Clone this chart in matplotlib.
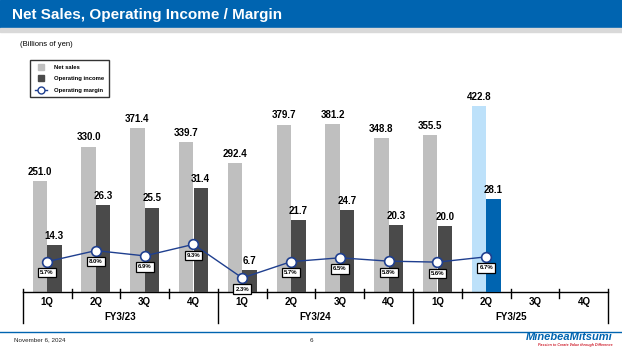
import matplotlib.pyplot as plt
from matplotlib.lines import Line2D
from matplotlib.patches import Rectangle

plt.rcParams['font.family'] = ['Liberation Sans', 'DejaVu Sans']

quarters = ["1Q", "2Q", "3Q", "4Q"] * 3
years = ["FY3/23", "FY3/24", "FY3/25"]
net_sales = [251.0, 330.0, 371.4, 339.7, 292.4, 379.7, 381.2, 348.8, 355.5, 422.8]
op_income = [14.3, 26.3, 25.5, 31.4, 6.7, 21.7, 24.7, 20.3, 20.0, 28.1]
op_margin = [5.7, 8.0, 6.9, 9.3, 2.3, 5.7, 6.5, 5.8, 5.6, 6.7]

W, H = 622, 350
fig = plt.figure(figsize=(W / 100, H / 100), dpi=100)

def fx(px):
    return px / W

def fy(py):
    return 1 - py / H

# header band
fig.patches.append(Rectangle((0, fy(28)), 1, 28 / H, transform=fig.transFigure,
                             color="#0064B0", zorder=0))
fig.patches.append(Rectangle((0, fy(32)), 1, 4 / H, transform=fig.transFigure,
                             color="#D9D9D9", zorder=0))
fig.text(fx(12), fy(15), "Net Sales, Operating Income / Margin", color="white",
         fontsize=11, fontweight="bold", va="center", ha="left")
fig.text(fx(20), fy(45), "(Billions of yen)", fontsize=5.5, va="center", ha="left")

# footer
fig.add_artist(Line2D([0, 1], [fy(332), fy(332)], transform=fig.transFigure,
                      color="#0064B0", lw=1))
fig.text(fx(14), fy(340), "November 6, 2024", fontsize=4.5, va="center", color="#222222")
fig.text(fx(311), fy(340), "6", fontsize=4.5, va="center", ha="center", color="#222222")
fig.text(fx(613), fy(337), "MinebeaMitsumi", fontsize=8, fontweight="bold",
         style="italic", color="#0064B0", ha="right", va="center")
fig.text(fx(613), fy(345), "Passion to Create Value through Difference", fontsize=2.6,
         fontweight="bold", style="italic", color="#D0202E", ha="right", va="center")

# main axes
left, right, top, bottom = 22.7, 608.3, 60, 292
ax = fig.add_axes([fx(left), fy(bottom), fx(right - left), (bottom - top) / H])
ax.set_xlim(0, 12)
ax.set_ylim(0, (bottom - top) / 0.4407)
ax2 = ax.twinx()
ax2.set_ylim(0, (bottom - top) / 3.31)
ax3 = ax.twinx()
ax3.set_ylim(-3 / 4.8, -3 / 4.8 + (bottom - top) / 4.8)
for a in (ax, ax2, ax3):
    a.axis("off")
    a.set_xlim(0, 12)
ax.set_zorder(1)
ax2.set_zorder(2)
ax3.set_zorder(3)

n = len(net_sales)
x = [i + 0.5 for i in range(n)]
bw = 0.297
ns_colors = ["#BFBFBF"] * (n - 1) + ["#BDE1FA"]
oi_colors = ["#4A4A4A"] * (n - 1) + ["#0064B0"]
ax.bar([v - 0.149 for v in x], net_sales, width=bw, color=ns_colors)
ax2.bar([v + 0.149 for v in x], op_income, width=bw, color=oi_colors)
for xi, v in zip(x, net_sales):
    ax.annotate(f"{v:.1f}", (xi - 0.149, v), xytext=(0, 3), textcoords="offset points",
                ha="center", va="bottom", fontsize=7, fontweight="bold")
for xi, v in zip(x, op_income):
    ax2.annotate(f"{v:.1f}", (xi + 0.149, v), xytext=(0, 3), textcoords="offset points",
                 ha="center", va="bottom", fontsize=7, fontweight="bold")

ax3.plot(x, op_margin, color="#1F3F8F", lw=1, marker="o", ms=7,
         mfc="white", mec="#1F3F8F", mew=1.2)
for xi, v in zip(x, op_margin):
    ax3.annotate(f"{v:.1f}%", (xi, v), xytext=(0, -8), textcoords="offset points",
                 ha="center", va="center", fontsize=4.3, fontweight="bold",
                 bbox=dict(boxstyle="square,pad=0.35", fc="white", ec="black", lw=0.9))

# category axis
tr = ax.get_xaxis_transform()
h = bottom - top
ax.plot([0, 12], [0, 0], transform=tr, color="black", lw=1, clip_on=False)
for k in range(13):
    low = -31 / h if k % 4 == 0 else -6 / h
    ax.plot([k, k], [3 / h, low], transform=tr, color="black", lw=1, clip_on=False)
for k, q in enumerate(quarters):
    ax.text(k + 0.5, -10 / h, q, transform=tr, ha="center", va="center",
            fontsize=7, fontweight="bold")
for j, yr in enumerate(years):
    ax.text(4 * j + 2, -25 / h, yr, transform=tr, ha="center", va="center",
            fontsize=7, fontweight="bold")

# legend
handles = [
    Line2D([], [], ls="none", marker="s", ms=5, mfc="#BFBFBF", mec="#BFBFBF"),
    Line2D([], [], ls="none", marker="s", ms=5, mfc="#4A4A4A", mec="#4A4A4A"),
    Line2D([], [], color="#1F3F8F", lw=1, marker="o", ms=5, mfc="white", mec="#1F3F8F"),
]
leg = fig.legend(handles, ["Net sales", "Operating income", "Operating margin"],
                 loc="upper left", bbox_to_anchor=(fx(27), fy(57)),
                 prop=dict(size=4.2, weight="bold"), frameon=True, fancybox=False,
                 edgecolor="black", handlelength=2.2, labelspacing=1.1,
                 borderpad=0.8, handletextpad=1.2)
leg.get_frame().set_linewidth(1)

fig.savefig("out.png", dpi=100)
